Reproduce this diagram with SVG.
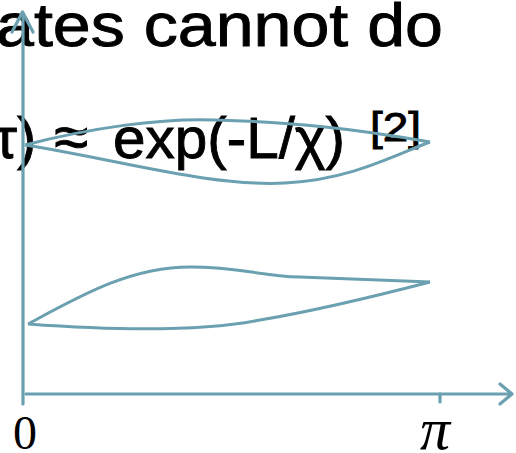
<svg xmlns="http://www.w3.org/2000/svg" width="516" height="453" viewBox="0 0 516 453">
<style>
.ax{fill:none;stroke:#6aa0b0;stroke-width:3.2;stroke-linecap:round;stroke-linejoin:round}
.cv{fill:none;stroke:#6aa0b0;stroke-width:3;stroke-linejoin:round}
.t{font-family:"Liberation Sans","DejaVu Sans",sans-serif;fill:#000;stroke:#000;stroke-width:0.9}
.m{font-family:"Liberation Serif","DejaVu Serif",serif;fill:#000}
</style>
<rect width="516" height="453" fill="#fff"/>
<g id="title">
<text class="t" x="-4" y="46" font-size="62" textLength="447" lengthAdjust="spacingAndGlyphs">ates cannot do</text>
</g>
<g id="formula">
<text class="t" x="-6" y="158" font-size="58">τ)</text>
<text class="t" x="54" y="158" font-size="62">≈</text>
<text class="t" x="113" y="158" font-size="58" textLength="232" lengthAdjust="spacingAndGlyphs">exp(-L/χ)</text>
<text class="t" x="370" y="141" font-size="40" textLength="51" lengthAdjust="spacingAndGlyphs">[2]</text>
</g>
<g id="axes">
<path class="ax" d="M23,404 L23,13"/>
<path class="ax" d="M12,32 L22.5,12 L33,32"/>
<path class="ax" d="M26,394 L511,394"/>
<path class="ax" d="M500,384 L512,394 L500,404"/>
<path class="ax" d="M440,394 L440,402" stroke-width="2.5"/>
</g>
<g id="labels">
<text class="m" x="13" y="449" font-size="48">0</text>
<text class="m" x="420" y="449" font-size="60" font-style="italic">π</text>
</g>
<g id="curves">
<path class="cv" d="M25,145 C 90,128 160,118 215,120 C 290,122 350,128 430,142"/>
<path class="cv" d="M25,145 C 120,160 210,187 285,183 C 350,180 395,155 430,142"/>
<path class="cv" d="M28,324 C 80,296 130,267 190,267 C 240,267 260,276 300,277 L 430,282"/>
<path class="cv" d="M28,324 C 110,330 200,332 260,320 C 320,310 380,295 430,282"/>
</g>
</svg>
